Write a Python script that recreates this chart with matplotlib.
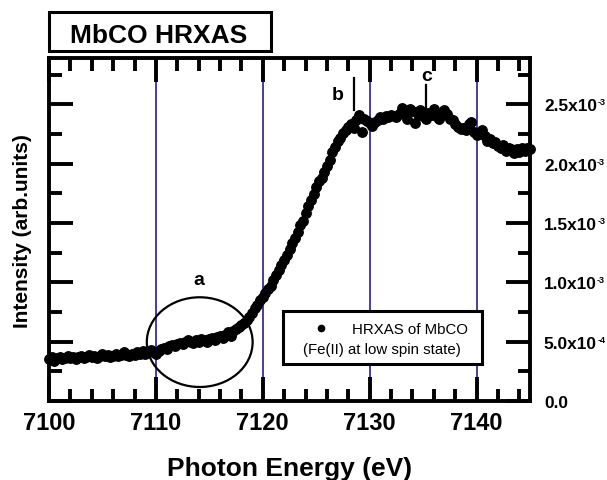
import matplotlib
matplotlib.use("Agg")
import matplotlib.pyplot as plt
from matplotlib.patches import Ellipse, Rectangle
import numpy as np

plt.rcParams['font.family'] = ['Liberation Sans', 'DejaVu Sans']

# ---- data (energy in eV, intensity in units of 1e-3) ----
energy_start = 7100.0
energy_step = 0.25
intensity_e3 = [
    0.35, 0.37, 0.34, 0.36, 0.37, 0.35, 0.36, 0.38, 0.36, 0.37,
    0.35, 0.37, 0.38, 0.36, 0.37, 0.39, 0.37, 0.38, 0.36, 0.38,
    0.40, 0.38, 0.39, 0.37, 0.38, 0.40, 0.38, 0.39, 0.41, 0.39,
    0.38, 0.40, 0.39, 0.41, 0.40, 0.42, 0.40, 0.41, 0.43, 0.41,
    0.40, 0.42, 0.44, 0.45, 0.44, 0.46, 0.47, 0.46, 0.48, 0.49,
    0.48, 0.50, 0.51, 0.50, 0.49, 0.51, 0.50, 0.52, 0.51, 0.50,
    0.52, 0.53, 0.51, 0.54, 0.55, 0.53, 0.56, 0.58, 0.55, 0.59,
    0.61, 0.62, 0.64, 0.66, 0.68, 0.71, 0.74, 0.78, 0.81, 0.85,
    0.88, 0.91, 0.94, 0.97, 1.02, 1.06, 1.10, 1.15, 1.19, 1.23,
    1.28, 1.33, 1.37, 1.42, 1.48, 1.52, 1.58, 1.64, 1.69, 1.74,
    1.80, 1.85, 1.88, 1.93, 1.98, 2.03, 2.10, 2.14, 2.19, 2.22,
    2.26, 2.28, 2.31, 2.33, 2.30, 2.37, 2.41, 2.27, 2.38, 2.36,
    2.34, 2.32, 2.35, 2.37, 2.39, 2.38, 2.40, 2.39, 2.41, 2.40,
    2.39, 2.42, 2.47, 2.43, 2.38, 2.46, 2.44, 2.34, 2.42, 2.45,
    2.40, 2.38, 2.43, 2.41, 2.46, 2.40, 2.38, 2.41, 2.45, 2.42,
    2.38, 2.37, 2.33, 2.31, 2.29, 2.30, 2.28, 2.33, 2.35, 2.27,
    2.24, 2.26, 2.28, 2.23, 2.19, 2.21, 2.17, 2.18, 2.15, 2.13,
    2.16, 2.11, 2.13, 2.12, 2.09, 2.12, 2.10, 2.13, 2.11, 2.13,
    2.12,
]
energy = [energy_start + energy_step * i for i in range(len(intensity_e3))]
intensity = [v * 1e-3 for v in intensity_e3]

xticks = [7100, 7110, 7120, 7130, 7140]
xtick_labels = ['7100', '7110', '7120', '7130', '7140']
yticks = [0.0, 0.5e-3, 1.0e-3, 1.5e-3, 2.0e-3, 2.5e-3]
ytick_mantissa = ['0.0', '5.0x10', '1.0x10', '1.5x10', '2.0x10', '2.5x10']
ytick_exponent = ['', '-4', '-3', '-3', '-3', '-3']
grid_x = [7110, 7120, 7130, 7140]

W, H = 607, 481
fig = plt.figure(figsize=(W/100, H/100), dpi=100)
ax = fig.add_axes([49/W, 1-402/H, 481/W, 343/H])

for gx in grid_x:
    ax.axvline(gx, color='#3b2e96', lw=1.3, zorder=1)

ax.plot(energy, intensity, 'o', color='black', markersize=6.8, zorder=3, clip_on=False)

ax.set_xlim(7100, 7145)
ax.set_ylim(0.0, 2.89e-3)

ax.set_xticks(xticks)
ax.set_xticklabels(xtick_labels, fontsize=17, fontweight='bold')
ax.set_xticks(np.arange(7102, 7145, 2), minor=True)
ax.set_yticks(yticks)
ax.set_yticklabels(ytick_mantissa, fontsize=12.4, fontweight='bold')
ax.set_yticks(np.arange(0.25e-3, 2.89e-3, 0.5e-3), minor=True)

ax.tick_params(which='both', direction='in', top=True, bottom=True, left=True, right=True,
               labelleft=False, labelright=True, width=2.8)
ax.tick_params(which='major', length=17)
ax.tick_params(which='minor', length=9)
ax.tick_params(axis='x', which='major', pad=7)
ax.tick_params(axis='y', which='major', pad=10)
for s in ax.spines.values():
    s.set_linewidth(2.8)
    s.set_zorder(5)

ax.set_xlabel('Photon Energy (eV)', fontsize=19, fontweight='bold', labelpad=16)
fig.text(23/W, 1-231/H, 'Intensity (arb.units)', rotation=90, fontsize=15,
         fontweight='bold', ha='center', va='center')

# ellipse and annotations
ax.add_patch(Ellipse((7114.1, 0.496e-3), 9.9, 0.756e-3, fill=False, lw=1.6,
                     edgecolor='black', zorder=4))
ax.text(7114.0, 1.02e-3, 'a', fontsize=14, fontweight='bold', ha='center', va='center')
ax.text(7127.0, 2.58e-3, 'b', fontsize=14, fontweight='bold', ha='center', va='center')
ax.plot([7128.5, 7128.5], [2.45e-3, 2.72e-3], color='black', lw=1.6, zorder=4)
ax.text(7135.3, 2.74e-3, 'c', fontsize=14, fontweight='bold', ha='center', va='center')
ax.plot([7135.3, 7135.3], [2.40e-3, 2.66e-3], color='black', lw=1.6, zorder=4)

# legend (manual)
ax.add_patch(Rectangle((0.4865, 0.108), 0.4135, 0.154, transform=ax.transAxes,
                       facecolor='white', edgecolor='black', lw=2.2, zorder=6))
ax.plot([0.5655], [0.2128], 'o', color='black', markersize=4.5, transform=ax.transAxes, zorder=7)
ax.text(0.63, 0.21, 'HRXAS of MbCO', transform=ax.transAxes, fontsize=10.8,
        ha='left', va='center', zorder=7)
ax.text(0.528, 0.1516, '(Fe(II) at low spin state)', transform=ax.transAxes, fontsize=10.8,
        ha='left', va='center', zorder=7)

# title box
fig.patches.append(Rectangle((49/W, 1-52/H), 222/W, 39/H, transform=fig.transFigure,
                             facecolor='white', edgecolor='black', lw=2.2))
fig.text(158.5/W, 1-43/H, 'MbCO HRXAS', fontsize=19, fontweight='bold',
         ha='center', va='baseline')

# small exponents after the y tick labels
fig.canvas.draw()
renderer = fig.canvas.get_renderer()
for lbl, e in zip(ax.yaxis.get_ticklabels(), ytick_exponent):
    if not e:
        continue
    bb = lbl.get_window_extent(renderer)
    fig.text((bb.x1 + 0.3)/W, (bb.y1 + 1)/H, e, fontsize=6.5, fontweight='bold',
             ha='left', va='top')

fig.savefig('out.png', dpi=100)
